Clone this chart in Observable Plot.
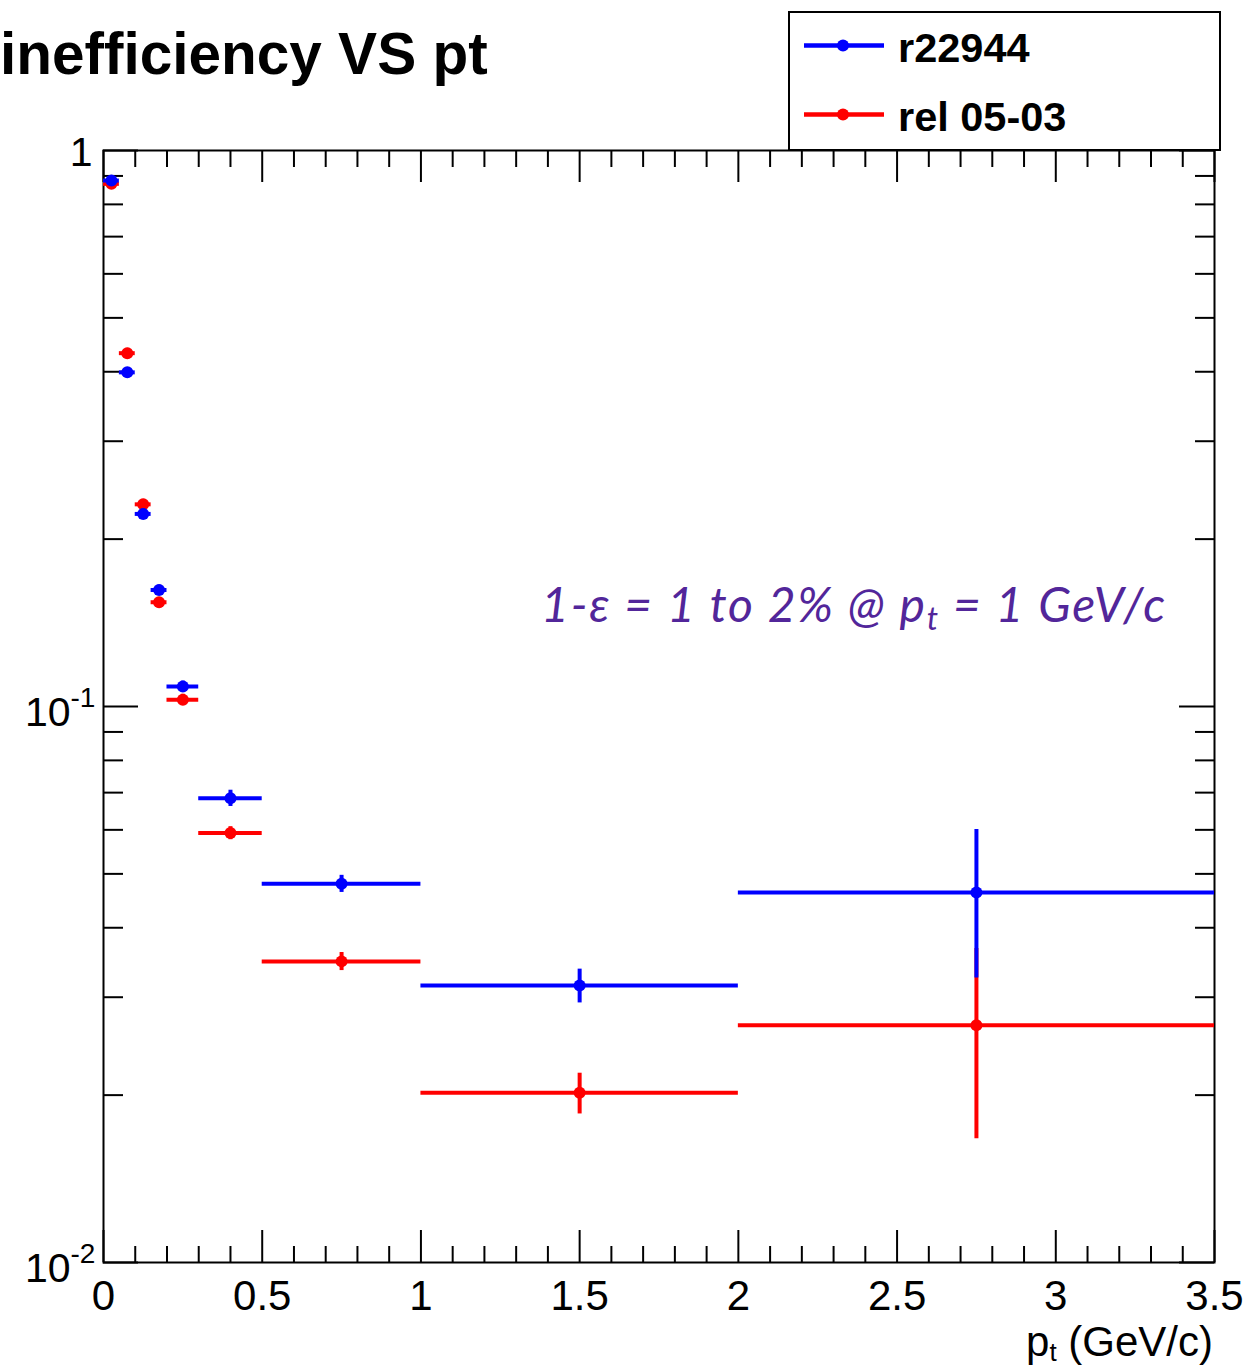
<!DOCTYPE html>
<html>
<head>
<meta charset="utf-8">
<script src="https://cdn.jsdelivr.net/npm/d3@7"></script>
<script src="https://cdn.jsdelivr.net/npm/@observablehq/plot@0.6"></script>
<style>
  html, body { margin: 0; padding: 0; background: #fff; }
  #chart { width: 1247px; height: 1368px; overflow: hidden; }
</style>
</head>
<body>
<div id="chart"></div>
<script>
// pt bins (GeV/c)
const binLow  = [0, 0.05, 0.10, 0.15, 0.20, 0.30, 0.50, 1.0, 2.0];
const binHigh = [0.05, 0.10, 0.15, 0.20, 0.30, 0.50, 1.0, 2.0, 3.5];

// tracking inefficiency (1 - efficiency) and its uncertainty per bin
const ineffR22944 = [0.883, 0.399, 0.222, 0.162, 0.1086, 0.0684, 0.0480, 0.0315, 0.0463];
const errR22944   = [0.016, 0.008, 0.0046, 0.0033, 0.0025, 0.0023, 0.0017, 0.0022, 0.0138];
const ineffRel0503 = [0.871, 0.432, 0.231, 0.154, 0.1028, 0.0592, 0.0348, 0.0202, 0.0267];
const errRel0503   = [0.016, 0.0087, 0.0048, 0.0031, 0.0024, 0.0016, 0.0013, 0.0017, 0.0100];

const seriesNames = ["r22944", "rel 05-03"];
const seriesColors = ["#0000ff", "#ff0000"];

// axis ticks and labels
const xMajorTicks = [0, 0.5, 1, 1.5, 2, 2.5, 3, 3.5];
const xTickLabels = ["0", "0.5", "1", "1.5", "2", "2.5", "3", "3.5"];
const xMinorTicks = d3.range(1, 35).map(i => i / 10).filter(v => Math.abs(v * 2 - Math.round(v * 2)) > 1e-9);
const yMajorTicks = [1, 0.1, 0.01];
const yTickBase = ["1", "10", "10"];
const yTickExp  = ["", "-1", "-2"];
const yMinorTicks = [0.01, 0.1].flatMap(d => [2, 3, 4, 5, 6, 7, 8, 9].map(m => m * d));

const W = 1247, H = 1368;
const M = {top: 150, right: 33, bottom: 106, left: 103};
const frameW = W - M.left - M.right;
const frameH = H - M.top - M.bottom;
const FONT = "'Liberation Sans', Arial, Helvetica, sans-serif";

function rows(values, errors) {
  return values.map((v, i) => ({lo: binLow[i], hi: binHigh[i], c: (binLow[i] + binHigh[i]) / 2, v, e: errors[i]}));
}
const dataNew = rows(ineffR22944, errR22944);
const dataOld = rows(ineffRel0503, errRel0503);

function histMarks(data, color) {
  return [
    Plot.ruleY(data, {y: "v", x1: "lo", x2: "hi", stroke: color, strokeWidth: 4}),
    Plot.ruleX(data, {x: "c", y1: d => d.v - d.e, y2: d => d.v + d.e, stroke: color, strokeWidth: 4}),
    Plot.dot(data, {x: "c", y: "v", r: 6, fill: color, stroke: "none"})
  ];
}

const tickStyle = {stroke: "black", strokeWidth: 2};
// the "1" label sits a little higher and further right than the powers of ten
const isOne = (d, i) => yTickExp[i] === "";

const plot = Plot.plot({
  width: W,
  height: H,
  marginTop: M.top, marginRight: M.right, marginBottom: M.bottom, marginLeft: M.left,
  style: {fontFamily: FONT, background: "white", overflow: "visible"},
  x: {domain: [0, 3.5], axis: null},
  y: {type: "log", domain: [0.01, 1], axis: null},
  marks: [
    // inward ticks on all four sides
    Plot.tickX(xMinorTicks, {x: d => d, insetTop: frameH - 16, ...tickStyle}),
    Plot.tickX(xMajorTicks, {x: d => d, insetTop: frameH - 32, ...tickStyle}),
    Plot.tickX(xMinorTicks, {x: d => d, insetBottom: frameH - 17, ...tickStyle}),
    Plot.tickX(xMajorTicks, {x: d => d, insetBottom: frameH - 32, ...tickStyle}),
    Plot.tickY(yMinorTicks, {y: d => d, insetRight: frameW - 20, ...tickStyle}),
    Plot.tickY(yMajorTicks, {y: d => d, insetRight: frameW - 35, ...tickStyle}),
    Plot.tickY(yMinorTicks, {y: d => d, insetLeft: frameW - 19, ...tickStyle}),
    Plot.tickY(yMajorTicks, {y: d => d, insetLeft: frameW - 35, ...tickStyle}),
    Plot.frame({stroke: "black", strokeWidth: 2}),
    // tick labels
    Plot.text(xMajorTicks, {x: d => d, text: (d, i) => xTickLabels[i], frameAnchor: "bottom",
      lineAnchor: "bottom", dy: 47, textAnchor: "middle", fontSize: 42, fill: "black"}),
    Plot.text(yMajorTicks, {filter: (d, i) => !isOne(d, i), y: d => d, text: (d, i) => yTickBase[i],
      frameAnchor: "left", lineAnchor: "bottom", dy: 19, dx: -33, textAnchor: "end", fontSize: 41, fill: "black"}),
    Plot.text(yMajorTicks, {filter: isOne, y: d => d, text: (d, i) => yTickBase[i],
      frameAnchor: "left", lineAnchor: "bottom", dy: 15, dx: -11, textAnchor: "end", fontSize: 41, fill: "black"}),
    Plot.text(yMajorTicks, {y: d => d, text: (d, i) => yTickExp[i], frameAnchor: "left",
      lineAnchor: "bottom", dy: 0, dx: -33, textAnchor: "start", fontSize: 28, fill: "black"}),
    // data: rel 05-03 underneath, r22944 on top
    ...histMarks(dataOld, seriesColors[1]),
    ...histMarks(dataNew, seriesColors[0])
  ]
});

document.getElementById("chart").appendChild(plot);

const svg = d3.select(plot);

// title
svg.append("text")
  .attr("x", 0).attr("y", 74).attr("text-anchor", "start")
  .attr("font-family", FONT).attr("font-weight", "bold").attr("font-size", 58.5)
  .attr("fill", "black")
  .text("inefficiency VS pt");

// legend
const lg = svg.append("g");
lg.append("rect")
  .attr("x", 789).attr("y", 12).attr("width", 431).attr("height", 138)
  .attr("fill", "white").attr("stroke", "black").attr("stroke-width", 2);
const rowsY = [45.5, 114.5];
seriesNames.forEach((name, i) => {
  const y = rowsY[i];
  lg.append("line").attr("x1", 804).attr("x2", 884).attr("y1", y).attr("y2", y)
    .attr("stroke", seriesColors[i]).attr("stroke-width", 4.5);
  lg.append("circle").attr("cx", 843).attr("cy", y).attr("r", 6).attr("fill", seriesColors[i]);
  lg.append("text").attr("x", 898).attr("y", y + 16).attr("text-anchor", "start")
    .attr("font-family", FONT).attr("font-weight", "bold").attr("font-size", 41.5)
    .attr("fill", "black").text(name);
});

// annotation
const ann = svg.append("text")
  .attr("x", 541).attr("y", 622).attr("text-anchor", "start")
  .attr("font-family", "Lato, 'Open Sans', sans-serif").attr("font-style", "italic")
  .attr("font-size", 48).attr("fill", "#52269a")
  .attr("textLength", 624).attr("lengthAdjust", "spacing");
ann.append("tspan").text("1-ε = 1 to 2% @ p");
ann.append("tspan").attr("dy", 8).attr("font-size", 32).text("t");
ann.append("tspan").attr("dy", -8).text(" = 1 GeV/c");

// x-axis title
const xt = svg.append("text")
  .attr("x", 1213).attr("y", 1356).attr("text-anchor", "end")
  .attr("font-family", FONT).attr("font-size", 42).attr("fill", "black");
xt.append("tspan").text("p");
xt.append("tspan").attr("dy", 5).attr("font-size", 26).text("t");
xt.append("tspan").attr("dy", -5).text(" (GeV/c)");
</script>
</body>
</html>
